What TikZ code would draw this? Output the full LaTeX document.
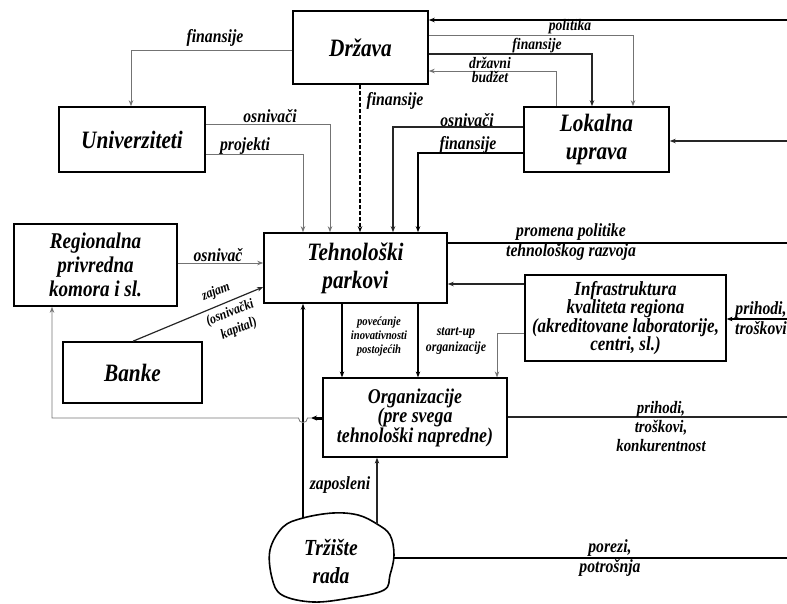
\documentclass[tikz,border=0pt]{standalone}
\usepackage{fontspec}
\setmainfont{Liberation Serif}[FakeStretch=0.85]
\usetikzlibrary{arrows.meta}

\begin{document}
\begin{tikzpicture}[x=1pt,y=-1pt,
  tip/.style={-{Stealth[length=6pt,width=4.5pt]}},
  box/.style={draw,line width=1.6pt,inner sep=0pt,align=center,
    font=\bfseries\itshape\fontsize{25}{28}\selectfont},
  lab/.style={inner sep=0pt,align=center,
    font=\bfseries\itshape\fontsize{18.5}{20}\selectfont},
  smalllab/.style={inner sep=0pt,align=center,
    font=\bfseries\itshape\fontsize{12.5}{14}\selectfont},
  slantlab/.style={inner sep=0pt,rotate=22,
    font=\bfseries\itshape\fontsize{14}{14}\selectfont},
  lnfaint/.style={line width=0.8pt,black!55},
  lnmid/.style={line width=1.2pt,black!85},
  lnheavy/.style={line width=2pt,black},
  lnbold/.style={line width=2.6pt,black}]

\useasboundingbox (0,0) rectangle (787,603);

% ---------- boxes ----------
\node[box,minimum width=135pt,minimum height=73pt] (drz) at (360.5,47.5) {Država};
\node[box,minimum width=145pt,minimum height=65pt] (lok) at (596.5,139.5) {Lokalna\\uprava};
\node[box,minimum width=146pt,minimum height=65pt] (uni) at (132,139.5) {Univerziteti};
\node[box,minimum width=183pt,minimum height=70pt] (teh) at (355.5,268) {Tehnološki\\parkovi};
\node[box,minimum width=163pt,minimum height=82pt,
  font=\bfseries\itshape\fontsize{22.5}{24}\selectfont] (reg) at (95.5,265) {Regionalna\\privredna\\komora i sl.};
\node[box,minimum width=139pt,minimum height=61pt] (ban) at (132.5,372.5) {Banke};
\node[box,minimum width=201pt,minimum height=86pt,line width=1.2pt,
  font=\bfseries\itshape\fontsize{20}{18.5}\selectfont] (inf) at (625.5,318)
  {Infrastruktura\\kvaliteta regiona\\(akreditovane laboratorije,\\centri, sl.)};
\node[box,minimum width=184pt,minimum height=79pt,line width=1.2pt,
  font=\bfseries\itshape\fontsize{21}{19.5}\selectfont] (org) at (415,417.5)
  {Organizacije\\(pre svega\\tehnološki napredne)};

% labour market: free-hand outline
\draw[line width=1.6pt] plot[smooth cycle,tension=0.6] coordinates
  {(270,550) (283,527) (303,518) (333,513) (358,515) (377,524) (390,535)
   (394,555) (390,575) (384,590) (350,598) (313,602) (282,595) (272,578)};
\node[box,draw=none,font=\bfseries\itshape\fontsize{23}{28}\selectfont] (trz) at (331,561) {Tržište\\rada};
\coordinate (trzA) at (303,518);
\coordinate (trzB) at (377,524);
\coordinate (trzC) at (393,558);

% ---------- outer environment ends ----------
\coordinate (e1) at (787,20);
\coordinate (e2) at (787,141);
\coordinate (e3) at (787,243);
\coordinate (e4) at (787,319);
\coordinate (e5) at (787,417);
\coordinate (e6) at (787,558);

% ---------- connectors around the state ----------
\draw[lnbold,tip] (e1) -- (drz.east |- e1);
\draw[lnfaint,tip] (drz.east |- 0,35) -| (lok.north -| 633,0);
\draw[lnmid,tip] (drz.east |- 0,54) -| (lok.north -| 592,0);
\draw[lnfaint,tip] (lok.north -| 556,0) |- (drz.east |- 0,71);
\draw[lnmid,tip] (e2) -- (lok.east |- e2);
\draw[lnfaint,tip] (drz.west |- 0,50) -| (uni.north -| 131,0);

% ---------- inputs to the technology parks ----------
\draw[lnfaint,tip] (uni.east |- 0,124) -| (teh.north -| 330,0);
\draw[lnfaint,tip] (uni.east |- 0,154) -| (teh.north -| 303,0);
\draw[line width=1.8pt,dash pattern=on 4pt off 2pt,tip] (drz.south -| 360,0) -- (teh.north -| 360,0);
\draw[lnmid,tip] (lok.west |- 0,127) -| (teh.north -| 393,0);
\draw[lnheavy,tip] (lok.west |- 0,153) -| (teh.north -| 418,0);
\draw[lnfaint,tip] (reg.east |- 0,263) -- (teh.west |- 0,263);
\draw[lnmid,tip] (ban.north -| 133,0) -- (teh.west |- 0,287);
\draw[lnbold] (teh.east |- e3) -- (e3);
\draw[lnmid,tip] (inf.west |- 0,284) -- (teh.east |- 0,284);
\draw[lnheavy,tip] (trzA) -- (teh.south -| trzA);

% ---------- organisations ----------
\draw[lnfaint,tip] (inf.west |- 0,333) -| (org.north -| 497,0);
\draw[lnbold,tip] (e4) -- (inf.east |- e4);
\draw[line width=1.6pt,tip] (teh.south -| 342,0) -- (org.north -| 342,0);
\draw[line width=1.6pt,tip] (teh.south -| 418,0) -- (org.north -| 418,0);
\draw[lnmid] (org.east |- e5) -- (e5);
\draw[line width=3pt,-{Stealth[length=6pt,width=5pt]}] (org.west |- 0,418) -- (311,418);
\draw[lnfaint,tip] (311,418) -- (307.5,418) .. controls (307.5,424) and (298.5,424) .. (298.5,418)
  -| (reg.south -| 52,0);
\draw[lnmid,tip] (trzB) -- (org.south -| trzB);
\draw[lnbold] (trzC) -- (e6);

% ---------- labels ----------
\node[lab] (l1) at (215,38) {finansije};
\node[lab,font=\bfseries\itshape\fontsize{16}{18}\selectfont] (l2) at (570,27) {politika};
\node[lab,font=\bfseries\itshape\fontsize{16}{18}\selectfont] (l3) at (537,46) {finansije};
\node[lab,font=\bfseries\itshape\fontsize{16}{14}\selectfont] (l4) at (490,70) {državni\\budžet};
\node[lab] (l5) at (270,116) {osnivači};
\node[lab] (l6) at (245,146) {projekti};
\node[lab] (l7) at (395,101) {finansije};
\node[lab] (l8) at (467,120) {osnivači};
\node[lab] (l9) at (468,145) {finansije};
\node[lab] (l10) at (218,255) {osnivač};
\node[slantlab] (l11a) at (216,292) {zajam};
\node[slantlab] (l11b) at (230,313) {(osnivački};
\node[slantlab] (l11c) at (239,329) {kapital)};
\node[lab] (l12) at (571,242) {promena politike\\tehnološkog razvoja};
\node[smalllab] (l13) at (379,336) {povećanje\\inovativnosti\\postojećih};
\node[smalllab,font=\bfseries\itshape\fontsize{14}{16}\selectfont] (l14) at (456,341) {start-up\\organizacije};
\node[lab,anchor=west] (l15) at (735,318) {prihodi,\\troškovi};
\node[lab,font=\bfseries\itshape\fontsize{17.5}{19}\selectfont] (l16) at (661,427) {prihodi,\\troškovi,\\konkurentnost};
\node[lab] (l17) at (340,485) {zaposleni};
\node[lab] (l18) at (610,558) {porezi,\\potrošnja};

\end{tikzpicture}
\end{document}
